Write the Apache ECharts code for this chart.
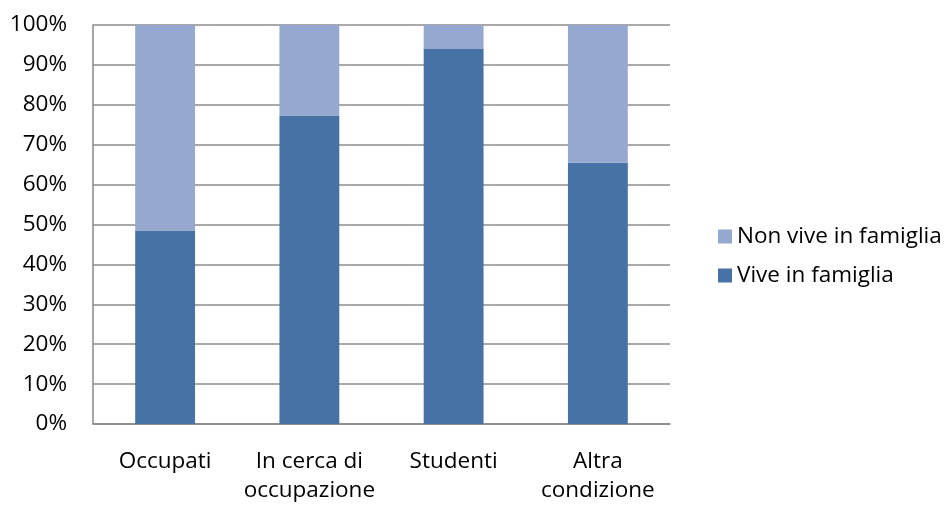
<!DOCTYPE html>
<html><head><meta charset="utf-8">
<script src="https://cdn.jsdelivr.net/npm/echarts@6/dist/echarts.min.js"></script>
<style>html,body{margin:0;padding:0;background:#fff}#c{width:949px;height:505px}</style>
</head><body><div id="c"></div>
<script>
const categories = ['Occupati', 'In cerca di\noccupazione', 'Studenti', 'Altra\ncondizione'];
const viveInFamiglia = [48.5, 77.3, 94.0, 65.5];
const nonViveInFamiglia = [51.5, 22.7, 6.0, 34.5];
const yTicks = [0, 10, 20, 30, 40, 50, 60, 70, 80, 90, 100];

const font = 'Open Sans';
const fs = 22.5;
const chart = echarts.init(document.getElementById('c'));
chart.setOption({
  animation: false,
  textStyle: { fontFamily: font },
  grid: { left: 93, right: 279, top: 25, bottom: 80, containLabel: false },
  legend: {
    orient: 'vertical', left: 713, top: 216,
    itemWidth: 14, itemHeight: 14, itemGap: 8, icon: 'rect',
    textStyle: { fontFamily: font, fontSize: fs, color: '#000', lineHeight: 31 },
    data: ['Non vive in famiglia', 'Vive in famiglia']
  },
  xAxis: {
    type: 'category', data: categories,
    axisLine: { lineStyle: { color: '#888', width: 1.5 } },
    axisTick: { show: false },
    axisLabel: { fontFamily: font, fontSize: fs, color: '#000', margin: 23, lineHeight: 29, interval: 0 }
  },
  yAxis: {
    type: 'value', min: yTicks[0], max: yTicks[yTicks.length - 1], interval: 10,
    axisLine: { show: true, lineStyle: { color: '#888', width: 1.5 } },
    axisTick: { show: false },
    splitLine: { lineStyle: { color: '#8c8c8c', width: 1.5 } },
    axisLabel: { fontFamily: font, fontSize: fs, color: '#000', margin: 26, formatter: v => v + '%' }
  },
  series: [
    { name: 'Vive in famiglia', type: 'bar', stack: 't', data: viveInFamiglia, barWidth: '41.5%',
      itemStyle: { color: '#4672A6' } },
    { name: 'Non vive in famiglia', type: 'bar', stack: 't', data: nonViveInFamiglia, barWidth: '41.5%',
      itemStyle: { color: '#95A9D0' } }
  ]
});
</script></body></html>
